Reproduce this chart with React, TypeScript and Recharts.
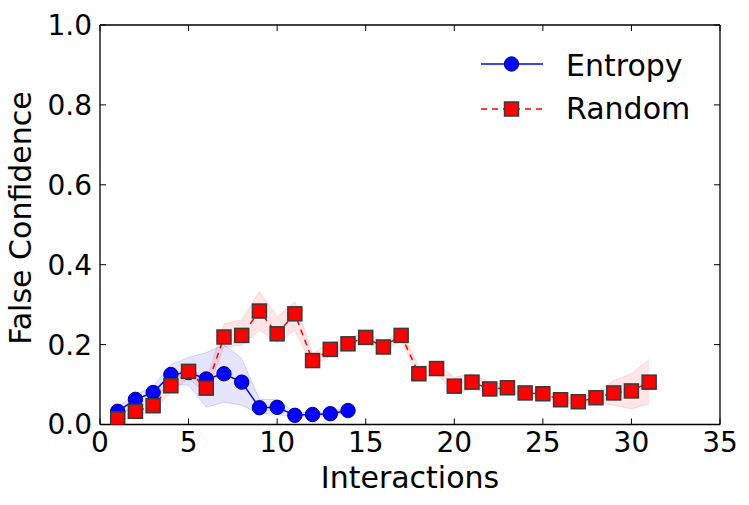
import React from 'react';
import { ComposedChart, Line, Area, XAxis, YAxis, Legend, Label } from 'recharts';

const entropyX = [1, 2, 3, 4, 5, 6, 7, 8, 9, 10, 11, 12, 13, 14];
const entropyMean = [0.033, 0.063, 0.080, 0.125, 0.130, 0.114, 0.127, 0.106, 0.042, 0.043, 0.023, 0.025, 0.027, 0.035];
const entropyLow = [0.020, 0.050, 0.065, 0.102, 0.098, 0.043, 0.056, 0.048, 0.027, 0.026, 0.018, 0.020, 0.022, 0.030];
const entropyHigh = [0.045, 0.075, 0.095, 0.150, 0.168, 0.180, 0.200, 0.165, 0.063, 0.062, 0.030, 0.031, 0.033, 0.041];

const randomX = [1, 2, 3, 4, 5, 6, 7, 8, 9, 10, 11, 12, 13, 14, 15, 16, 17, 18, 19, 20, 21, 22, 23, 24, 25, 26, 27, 28, 29, 30, 31];
const randomMean = [0.014, 0.033, 0.047, 0.097, 0.133, 0.091, 0.219, 0.223, 0.284, 0.227, 0.277, 0.160, 0.188, 0.202, 0.218, 0.194, 0.223, 0.127, 0.140, 0.096, 0.106, 0.089, 0.092, 0.079, 0.077, 0.062, 0.057, 0.067, 0.079, 0.084, 0.106];
const randomLow = [0.005, 0.022, 0.032, 0.080, 0.115, 0.077, 0.194, 0.198, 0.236, 0.205, 0.236, 0.145, 0.172, 0.190, 0.205, 0.182, 0.210, 0.115, 0.128, 0.078, 0.088, 0.080, 0.082, 0.070, 0.068, 0.055, 0.050, 0.056, 0.048, 0.039, 0.052];
const randomHigh = [0.025, 0.045, 0.060, 0.115, 0.150, 0.108, 0.252, 0.262, 0.332, 0.270, 0.307, 0.178, 0.205, 0.215, 0.232, 0.207, 0.235, 0.145, 0.155, 0.118, 0.128, 0.105, 0.102, 0.088, 0.086, 0.070, 0.064, 0.081, 0.110, 0.127, 0.163];

const xTicks = [0, 5, 10, 15, 20, 25, 30, 35];
const yTicks = [0, 0.2, 0.4, 0.6, 0.8, 1.0];

const entropyData = entropyX.map((x, i) => ({ x, mean: entropyMean[i], band: [entropyLow[i], entropyHigh[i]] }));
const randomData = randomX.map((x, i) => ({ x, mean: randomMean[i], band: [randomLow[i], randomHigh[i]] }));

const FONT = 'DejaVu Sans';
const LABEL_SIZE = 30;
const tickStyle = { fontSize: 28, fill: '#000', fontFamily: FONT };

const SquareDot = (props: any) => {
  const { cx, cy, index } = props;
  if (cx == null || cy == null) return <g key={`sq-${index}`} />;
  return (
    <rect key={`sq-${index}`} x={cx - 7} y={cy - 7} width={14} height={14} fill="#ff0000" stroke="#3a3a3a" strokeWidth={1.5} />
  );
};

const renderLegend = () => (
  <svg width={270} height={100} style={{ display: 'block' }}>
    <line x1={5} y1={24} x2={67} y2={24} stroke="#0000ff" strokeWidth={1.5} />
    <circle cx={35.5} cy={24} r={7.2} fill="#0000ff" stroke="#00008b" strokeWidth={1} />
    <text x={90} y={35.7} fontSize={LABEL_SIZE} fontFamily={FONT} fill="#000">Entropy</text>
    <line x1={5} y1={69} x2={67} y2={69} stroke="#ff0000" strokeWidth={1.5} strokeDasharray="6 5" />
    <rect x={28.5} y={62} width={14} height={14} fill="#ff0000" stroke="#3a3a3a" strokeWidth={1.5} />
    <text x={90} y={79.3} fontSize={LABEL_SIZE} fontFamily={FONT} fill="#000">Random</text>
  </svg>
);

export default function App() {
  return (
    <div style={{ position: 'absolute', left: 0, top: 0, width: 749, height: 505, background: '#fff' }}>
      <ComposedChart width={749} height={505} margin={{ top: 24, right: 28, bottom: 20.5, left: 8 }}>
        <XAxis
          xAxisId="bottom"
          type="number"
          dataKey="x"
          domain={[0, 35]}
          ticks={xTicks}
          allowDataOverflow
          orientation="bottom"
          height={60}
          tickSize={-6}
          tickMargin={14}
          tick={tickStyle}
          tickLine={{ stroke: '#000', strokeWidth: 1 }}
          axisLine={{ stroke: '#000', strokeWidth: 1.3 }}
          interval={0}
        >
          <Label
            content={(p: any) => {
              const vb = p.viewBox || {};
              return (
                <text x={vb.x + vb.width / 2} y={488.3} textAnchor="middle" fontSize={LABEL_SIZE} fontFamily={FONT} fill="#000">
                  Interactions
                </text>
              );
            }}
          />
        </XAxis>
        <XAxis
          xAxisId="top"
          type="number"
          dataKey="x"
          domain={[0, 35]}
          ticks={xTicks}
          allowDataOverflow
          orientation="top"
          height={1}
          tickSize={-6}
          tickMargin={0}
          tickFormatter={() => ''}
          tickLine={{ stroke: '#000', strokeWidth: 1 }}
          axisLine={{ stroke: '#000', strokeWidth: 1.3 }}
          interval={0}
        />
        <YAxis
          yAxisId="left"
          type="number"
          domain={[0, 1]}
          ticks={yTicks}
          allowDataOverflow
          orientation="left"
          width={92}
          tickSize={-6}
          tickMargin={14}
          tick={tickStyle}
          tickFormatter={(v: number) => v.toFixed(1)}
          tickLine={{ stroke: '#000', strokeWidth: 1 }}
          axisLine={{ stroke: '#000', strokeWidth: 1.3 }}
          interval={0}
        >
          <Label
            content={() => (
              <text x={31} y={218} transform="rotate(-90, 31, 218)" textAnchor="middle" fontSize={LABEL_SIZE} fontFamily={FONT} fill="#000">
                False Confidence
              </text>
            )}
          />
        </YAxis>
        <YAxis
          yAxisId="right"
          type="number"
          domain={[0, 1]}
          ticks={yTicks}
          allowDataOverflow
          orientation="right"
          width={1}
          tickSize={-6}
          tickMargin={0}
          tickFormatter={() => ''}
          tickLine={{ stroke: '#000', strokeWidth: 1 }}
          axisLine={{ stroke: '#000', strokeWidth: 1.3 }}
          interval={0}
        />
        <Area
          data={entropyData}
          xAxisId="bottom"
          yAxisId="left"
          dataKey="band"
          type="linear"
          stroke="#0000ff"
          strokeOpacity={0.15}
          fill="#0000ff"
          fillOpacity={0.1}
          dot={false}
          activeDot={false}
          isAnimationActive={false}
        />
        <Area
          data={randomData}
          xAxisId="bottom"
          yAxisId="left"
          dataKey="band"
          type="linear"
          stroke="#ff0000"
          strokeOpacity={0.12}
          fill="#ff0000"
          fillOpacity={0.1}
          dot={false}
          activeDot={false}
          isAnimationActive={false}
        />
        <Line
          data={entropyData}
          xAxisId="bottom"
          yAxisId="left"
          dataKey="mean"
          type="linear"
          stroke="#0000ff"
          strokeWidth={1.5}
          dot={{ r: 7.2, fill: '#0000ff', stroke: '#00008b', strokeWidth: 1 }}
          activeDot={false}
          isAnimationActive={false}
        />
        <Line
          data={randomData}
          xAxisId="bottom"
          yAxisId="left"
          dataKey="mean"
          type="linear"
          stroke="#ff0000"
          strokeWidth={1.5}
          strokeDasharray="6 5"
          dot={SquareDot}
          activeDot={false}
          isAnimationActive={false}
        />
        <Legend
          layout="vertical"
          align="center"
          verticalAlign="middle"
          content={renderLegend}
          wrapperStyle={{ top: 40, left: 476, width: 270, height: 100 }}
        />
      </ComposedChart>
    </div>
  );
}
